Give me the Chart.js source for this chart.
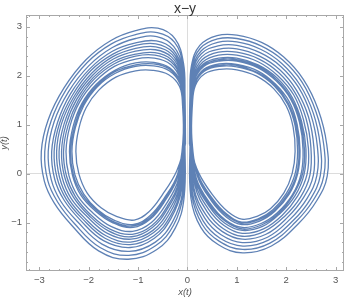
<!DOCTYPE html>
<html>
<head>
<meta charset="utf-8">
<script src="https://cdn.jsdelivr.net/npm/chart.js@4/dist/chart.umd.min.js"></script>
<style>
  html, body { margin: 0; padding: 0; background: #fff; }
</style>
</head>
<body>
<canvas id="chart" width="345" height="297"></canvas>
<script>
// tick values
const xTicks = [-3, -2, -1, 0, 1, 2, 3];
const yTicks = [-1, 0, 1, 2, 3];

// laps round the left lobe, outermost first
const leftLoops = [
  [[-0.04,0.6],[-0.05,1.6],[-0.08,2.25],[-0.25,2.75],[-0.6,2.97],[-1.05,2.92],[-1.55,2.72],[-2.05,2.33],[-2.5,1.75],[-2.82,1.1],[-2.96,0.45],[-2.9,-0.15],[-2.7,-0.6],[-2.35,-1.05],[-1.8,-1.58],[-1.2,-1.75],[-0.62,-1.55],[-0.25,-1.12],[-0.07,-0.5]],
  [[-0.05,0.61],[-0.06,1.58],[-0.09,2.2],[-0.26,2.68],[-0.61,2.88],[-1.05,2.84],[-1.54,2.65],[-2.03,2.27],[-2.46,1.71],[-2.76,1.08],[-2.89,0.45],[-2.83,-0.14],[-2.63,-0.58],[-2.29,-1.02],[-1.77,-1.51],[-1.19,-1.67],[-0.64,-1.47],[-0.28,-1.05],[-0.09,-0.45]],
  [[-0.05,0.62],[-0.06,1.56],[-0.1,2.16],[-0.28,2.6],[-0.62,2.8],[-1.05,2.76],[-1.53,2.57],[-2.0,2.2],[-2.41,1.67],[-2.7,1.06],[-2.82,0.45],[-2.76,-0.12],[-2.57,-0.56],[-2.23,-0.98],[-1.73,-1.44],[-1.18,-1.59],[-0.65,-1.4],[-0.3,-0.98],[-0.1,-0.39]],
  [[-0.06,0.63],[-0.07,1.54],[-0.1,2.11],[-0.29,2.53],[-0.63,2.71],[-1.05,2.67],[-1.52,2.5],[-1.98,2.14],[-2.37,1.63],[-2.63,1.05],[-2.75,0.45],[-2.69,-0.11],[-2.5,-0.54],[-2.17,-0.95],[-1.7,-1.37],[-1.16,-1.51],[-0.67,-1.32],[-0.33,-0.91],[-0.12,-0.34]],
  [[-0.06,0.64],[-0.07,1.53],[-0.11,2.08],[-0.3,2.48],[-0.64,2.65],[-1.05,2.62],[-1.51,2.44],[-1.96,2.1],[-2.33,1.6],[-2.59,1.03],[-2.7,0.45],[-2.64,-0.09],[-2.45,-0.53],[-2.13,-0.92],[-1.67,-1.32],[-1.16,-1.45],[-0.68,-1.27],[-0.34,-0.86],[-0.13,-0.3]],
  [[-0.06,0.64],[-0.07,1.51],[-0.12,2.04],[-0.31,2.43],[-0.64,2.59],[-1.05,2.56],[-1.51,2.39],[-1.94,2.05],[-2.3,1.57],[-2.55,1.02],[-2.65,0.45],[-2.59,-0.08],[-2.41,-0.51],[-2.09,-0.9],[-1.65,-1.27],[-1.15,-1.4],[-0.69,-1.21],[-0.36,-0.81],[-0.14,-0.26]],
  [[-0.07,0.65],[-0.08,1.5],[-0.12,2.01],[-0.32,2.38],[-0.65,2.53],[-1.05,2.5],[-1.5,2.34],[-1.92,2.01],[-2.27,1.55],[-2.5,1.01],[-2.6,0.45],[-2.54,-0.07],[-2.36,-0.5],[-2.04,-0.87],[-1.62,-1.22],[-1.14,-1.34],[-0.7,-1.16],[-0.38,-0.76],[-0.15,-0.22]],
  [[-0.07,0.66],[-0.08,1.48],[-0.13,1.98],[-0.33,2.33],[-0.66,2.47],[-1.05,2.44],[-1.49,2.29],[-1.91,1.96],[-2.24,1.52],[-2.46,1.0],[-2.55,0.45],[-2.49,-0.06],[-2.31,-0.48],[-2.0,-0.85],[-1.6,-1.17],[-1.13,-1.29],[-0.71,-1.1],[-0.4,-0.71],[-0.16,-0.18]],
  [[-0.07,0.66],[-0.08,1.47],[-0.13,1.95],[-0.33,2.28],[-0.66,2.42],[-1.05,2.4],[-1.49,2.24],[-1.89,1.93],[-2.21,1.49],[-2.42,0.98],[-2.51,0.45],[-2.45,-0.05],[-2.27,-0.47],[-1.97,-0.83],[-1.58,-1.13],[-1.12,-1.24],[-0.72,-1.06],[-0.41,-0.67],[-0.17,-0.15]],
  [[-0.08,0.67],[-0.09,1.46],[-0.14,1.92],[-0.34,2.23],[-0.67,2.36],[-1.05,2.34],[-1.48,2.19],[-1.87,1.88],[-2.18,1.47],[-2.38,0.97],[-2.46,0.45],[-2.4,-0.04],[-2.22,-0.46],[-1.92,-0.8],[-1.55,-1.08],[-1.11,-1.18],[-0.73,-1.0],[-0.43,-0.62],[-0.18,-0.11]],
  [[-0.08,0.68],[-0.09,1.44],[-0.14,1.87],[-0.36,2.16],[-0.68,2.27],[-1.05,2.26],[-1.47,2.11],[-1.85,1.82],[-2.14,1.43],[-2.32,0.95],[-2.39,0.45],[-2.33,-0.03],[-2.16,-0.44],[-1.86,-0.77],[-1.52,-1.0],[-1.1,-1.1],[-0.75,-0.93],[-0.45,-0.55],[-0.19,-0.05]],
  [[-0.08,0.69],[-0.09,1.43],[-0.15,1.85],[-0.36,2.13],[-0.69,2.24],[-1.05,2.22],[-1.47,2.08],[-1.84,1.79],[-2.12,1.41],[-2.29,0.95],[-2.37,0.45],[-2.31,-0.02],[-2.13,-0.43],[-1.84,-0.75],[-1.5,-0.98],[-1.1,-1.07],[-0.76,-0.9],[-0.46,-0.53],[-0.2,-0.03]],
  [[-0.08,0.69],[-0.09,1.42],[-0.15,1.83],[-0.37,2.1],[-0.69,2.2],[-1.05,2.19],[-1.46,2.05],[-1.83,1.77],[-2.1,1.39],[-2.27,0.94],[-2.34,0.45],[-2.28,-0.02],[-2.1,-0.42],[-1.82,-0.74],[-1.49,-0.95],[-1.09,-1.04],[-0.76,-0.86],[-0.47,-0.5],[-0.2,-0.01]],
  [[-0.09,0.7],[-0.1,1.4],[-0.16,1.78],[-0.38,2.02],[-0.7,2.11],[-1.05,2.1],[-1.45,1.97],[-1.8,1.7],[-2.05,1.35],[-2.2,0.92],[-2.26,0.45],[-2.2,0.0],[-2.03,-0.4],[-1.75,-0.7],[-1.45,-0.87],[-1.08,-0.95],[-0.78,-0.78],[-0.5,-0.42],[-0.22,0.05]]
];

// laps round the right lobe, outermost first
const rightLoops = [
  [[0.04,0.6],[0.05,1.6],[0.08,2.2],[0.25,2.62],[0.6,2.82],[1.0,2.83],[1.5,2.68],[1.95,2.38],[2.35,1.92],[2.65,1.3],[2.82,0.6],[2.83,-0.05],[2.62,-0.55],[2.25,-1.02],[1.7,-1.48],[1.12,-1.62],[0.62,-1.45],[0.27,-1.1],[0.07,-0.5]],
  [[0.05,0.61],[0.06,1.58],[0.09,2.16],[0.26,2.56],[0.61,2.75],[1.0,2.76],[1.49,2.61],[1.93,2.32],[2.32,1.87],[2.6,1.27],[2.76,0.59],[2.76,-0.05],[2.55,-0.54],[2.19,-0.99],[1.67,-1.42],[1.12,-1.55],[0.64,-1.38],[0.3,-1.04],[0.09,-0.45]],
  [[0.05,0.62],[0.06,1.56],[0.1,2.12],[0.27,2.5],[0.61,2.68],[1.0,2.69],[1.48,2.54],[1.91,2.25],[2.28,1.81],[2.55,1.23],[2.69,0.57],[2.69,-0.04],[2.49,-0.52],[2.14,-0.96],[1.64,-1.36],[1.12,-1.48],[0.66,-1.32],[0.32,-0.97],[0.1,-0.39]],
  [[0.06,0.63],[0.07,1.54],[0.1,2.08],[0.28,2.45],[0.62,2.61],[1.0,2.62],[1.47,2.47],[1.89,2.19],[2.25,1.76],[2.5,1.2],[2.63,0.56],[2.62,-0.04],[2.42,-0.51],[2.08,-0.93],[1.62,-1.3],[1.11,-1.41],[0.68,-1.25],[0.35,-0.91],[0.12,-0.34]],
  [[0.06,0.64],[0.07,1.52],[0.11,2.04],[0.29,2.39],[0.62,2.54],[1.0,2.55],[1.46,2.4],[1.87,2.12],[2.21,1.7],[2.45,1.16],[2.56,0.54],[2.55,-0.03],[2.35,-0.49],[2.02,-0.9],[1.59,-1.24],[1.11,-1.34],[0.7,-1.18],[0.37,-0.84],[0.13,-0.29]],
  [[0.07,0.65],[0.08,1.5],[0.12,2.0],[0.3,2.33],[0.63,2.48],[1.0,2.48],[1.45,2.34],[1.85,2.06],[2.18,1.65],[2.4,1.13],[2.5,0.53],[2.48,-0.03],[2.29,-0.48],[1.97,-0.87],[1.56,-1.18],[1.11,-1.28],[0.72,-1.12],[0.4,-0.78],[0.15,-0.24]],
  [[0.07,0.66],[0.08,1.48],[0.13,1.97],[0.31,2.28],[0.63,2.42],[1.0,2.42],[1.44,2.28],[1.83,2.0],[2.15,1.61],[2.35,1.1],[2.45,0.51],[2.42,-0.02],[2.23,-0.46],[1.92,-0.85],[1.54,-1.13],[1.11,-1.22],[0.74,-1.06],[0.42,-0.72],[0.16,-0.19]],
  [[0.07,0.67],[0.08,1.47],[0.13,1.94],[0.32,2.24],[0.63,2.36],[1.0,2.36],[1.43,2.22],[1.82,1.95],[2.12,1.56],[2.31,1.07],[2.4,0.5],[2.36,-0.02],[2.18,-0.45],[1.87,-0.82],[1.52,-1.08],[1.11,-1.16],[0.75,-1.01],[0.44,-0.67],[0.17,-0.15]],
  [[0.08,0.67],[0.09,1.46],[0.14,1.92],[0.32,2.21],[0.64,2.33],[1.0,2.33],[1.43,2.19],[1.81,1.92],[2.1,1.54],[2.29,1.05],[2.37,0.49],[2.33,-0.01],[2.14,-0.44],[1.85,-0.81],[1.5,-1.05],[1.11,-1.13],[0.76,-0.97],[0.45,-0.64],[0.18,-0.12]],
  [[0.08,0.68],[0.09,1.45],[0.14,1.9],[0.33,2.19],[0.64,2.3],[1.0,2.3],[1.43,2.16],[1.8,1.89],[2.09,1.52],[2.27,1.04],[2.34,0.49],[2.3,-0.01],[2.12,-0.44],[1.82,-0.8],[1.49,-1.02],[1.11,-1.1],[0.77,-0.95],[0.46,-0.61],[0.18,-0.1]],
  [[0.08,0.68],[0.09,1.43],[0.15,1.86],[0.33,2.13],[0.64,2.24],[1.0,2.23],[1.42,2.1],[1.78,1.83],[2.06,1.47],[2.22,1.01],[2.28,0.47],[2.23,-0.01],[2.06,-0.42],[1.77,-0.77],[1.46,-0.97],[1.1,-1.04],[0.79,-0.89],[0.48,-0.55],[0.2,-0.05]],
  [[0.08,0.69],[0.09,1.42],[0.15,1.85],[0.34,2.11],[0.64,2.21],[1.0,2.21],[1.41,2.07],[1.77,1.81],[2.04,1.44],[2.2,0.99],[2.26,0.47],[2.21,-0.01],[2.03,-0.42],[1.75,-0.76],[1.45,-0.94],[1.1,-1.01],[0.8,-0.86],[0.49,-0.53],[0.2,-0.03]],
  [[0.09,0.69],[0.1,1.42],[0.15,1.83],[0.34,2.09],[0.65,2.19],[1.0,2.18],[1.41,2.05],[1.77,1.78],[2.03,1.42],[2.18,0.98],[2.23,0.46],[2.18,0.0],[2.0,-0.41],[1.73,-0.74],[1.44,-0.92],[1.1,-0.99],[0.8,-0.83],[0.5,-0.5],[0.21,-0.01]],
  [[0.09,0.7],[0.1,1.4],[0.16,1.8],[0.35,2.04],[0.65,2.13],[1.0,2.12],[1.4,1.99],[1.75,1.73],[2.0,1.38],[2.14,0.95],[2.18,0.45],[2.12,0.0],[1.95,-0.4],[1.68,-0.72],[1.42,-0.87],[1.1,-0.93],[0.82,-0.78],[0.52,-0.45],[0.22,0.03]]
];

const LINE = '#5e81b5';
const FONT = '"Liberation Sans", Arial, sans-serif';

function lobe(loops) {
  // chain the laps into one path and close it on the first point
  const pts = loops.flat().map(p => ({x: p[0], y: p[1]}));
  pts.push({x: loops[0][0][0], y: loops[0][0][1]});
  return pts;
}

function minus(v) {
  return v < 0 ? '\u2212' + Math.abs(v) : String(v);
}

// frame with inward ticks on all four sides, plus the title
const framePlugin = {
  id: 'frame',
  afterDraw(chart) {
    const ctx = chart.ctx;
    const a = chart.chartArea;
    const sx = chart.scales.x, sy = chart.scales.y;
    ctx.save();
    ctx.strokeStyle = '#a8a8a8';
    ctx.lineWidth = 1;
    ctx.strokeRect(a.left + 0.5, a.top + 0.5, a.right - a.left - 1, a.bottom - a.top - 1);
    ctx.beginPath();
    for (let i = -17; i <= 16; i++) {
      const px = Math.round(sx.getPixelForValue(i / 5)) + 0.5;
      if (px < a.left || px > a.right) continue;
      const len = i % 5 === 0 ? 4 : 2;
      ctx.moveTo(px, a.bottom); ctx.lineTo(px, a.bottom - len);
      ctx.moveTo(px, a.top); ctx.lineTo(px, a.top + len);
    }
    for (let i = -10; i <= 16; i++) {
      const py = Math.round(sy.getPixelForValue(i / 5)) + 0.5;
      if (py < a.top || py > a.bottom) continue;
      const len = i % 5 === 0 ? 4 : 2;
      ctx.moveTo(a.left, py); ctx.lineTo(a.left + len, py);
      ctx.moveTo(a.right, py); ctx.lineTo(a.right - len, py);
    }
    ctx.stroke();
    ctx.fillStyle = '#333';
    ctx.font = '14px ' + FONT;
    ctx.textAlign = 'center';
    ctx.textBaseline = 'alphabetic';
    ctx.fillText('x\u2212y', (a.left + a.right) / 2, 13);
    ctx.restore();
  }
};

const zeroGrid = c => c.tick && c.tick.value === 0 ? '#dcdcdc' : 'rgba(0,0,0,0)';

new Chart(document.getElementById('chart'), {
  type: 'line',
  data: {
    datasets: [
      { data: lobe(leftLoops) },
      { data: lobe(rightLoops) }
    ]
  },
  options: {
    responsive: false,
    animation: false,
    layout: { padding: { top: 15, right: 1, left: 0, bottom: 0 } },
    elements: {
      line: { borderColor: LINE, borderWidth: 1.3, tension: 0.4, fill: false },
      point: { radius: 0 }
    },
    plugins: { legend: { display: false }, tooltip: { enabled: false }, title: { display: false } },
    scales: {
      x: {
        type: 'linear',
        min: -3.27, max: 3.17,
        afterBuildTicks: s => { s.ticks = xTicks.map(v => ({value: v})); },
        afterFit: s => { s.height = 26; },
        grid: { color: zeroGrid, drawTicks: false, lineWidth: 1 },
        border: { display: false },
        ticks: { color: '#555', font: { family: FONT, size: 9.5 }, padding: 4, maxRotation: 0, callback: v => minus(v) },
        title: { display: true, text: 'x(t)', color: '#555', font: { family: FONT, size: 9.5, style: 'italic', lineHeight: 1 }, padding: 0 }
      },
      y: {
        type: 'linear',
        min: -1.99, max: 3.24,
        afterBuildTicks: s => { s.ticks = yTicks.map(v => ({value: v})); },
        afterFit: s => { s.width = 26; },
        grid: { color: zeroGrid, drawTicks: false, lineWidth: 1 },
        border: { display: false },
        ticks: { color: '#555', font: { family: FONT, size: 9.5 }, padding: 4, callback: v => minus(v) },
        title: { display: true, text: 'y(t)', color: '#555', font: { family: FONT, size: 9.5, style: 'italic', lineHeight: 1 }, padding: 0 }
      }
    }
  },
  plugins: [framePlugin]
});
</script>
</body>
</html>
